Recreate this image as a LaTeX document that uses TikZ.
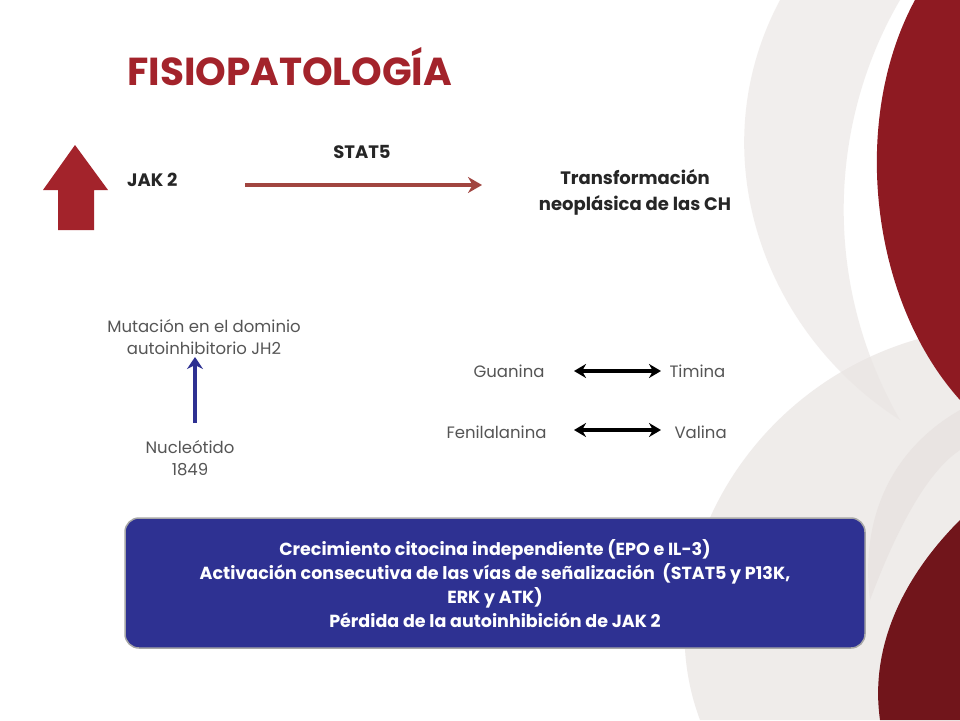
\documentclass[tikz,border=0pt]{standalone}
\usepackage{fontspec}
\setmainfont{Poppins}
\usetikzlibrary{arrows.meta}
\definecolor{dred}{HTML}{A3232B}
\definecolor{brn}{HTML}{A14540}
\definecolor{navy}{HTML}{2E3192}
\definecolor{gtxt}{HTML}{555555}
\definecolor{swr}{HTML}{8E1A22}
\definecolor{swg}{HTML}{E9E4E2}
\tikzset{lbl/.style={font=\fontsize{18}{22}\selectfont\bfseries,text=black!85},
 glbl/.style={font=\fontsize{16.5}{22}\selectfont,text=gtxt,align=center},
 dbl/.style={{Stealth[length=12pt,width=14pt]}-{Stealth[length=12pt,width=14pt]},line width=3.5pt}}
\begin{document}
\begin{tikzpicture}[x=1pt,y=-1pt]
\useasboundingbox (0,0) rectangle (960,720);
\fill[white] (0,0) rectangle (960,720);
% background swooshes
\fill[swg,opacity=0.7] (960,330) .. controls (760,360) and (640,560) .. (700,720) -- (960,720) -- cycle;
\fill[swg,opacity=0.6] (780,0) .. controls (700,150) and (760,330) .. (900,420) .. controls (820,280) and (830,120) .. (900,0) -- cycle;
\fill[swr] (960,0) -- (915,0) .. controls (850,120) and (870,300) .. (960,400) -- cycle;
\fill[swr!80!black] (960,520) .. controls (900,580) and (870,650) .. (880,720) -- (960,720) -- cycle;
\fill[swg] (960,410) .. controls (890,450) and (860,520) .. (870,600) .. controls (900,520) and (930,470) .. (960,450) -- cycle;
% title
\node[anchor=base west,text=dred,font=\fontsize{39}{44}\selectfont\bfseries,inner sep=0pt] (title) at (127,85) {FISIOPATOLOGÍA};
% red up arrow
\fill[dred] (43,190) -- (75,145) -- (108,190) -- (94,190) -- (94,230) -- (58,230) -- (58,190) -- cycle;
\node[lbl,anchor=west,inner sep=0pt] (jak) at (127,180) {JAK 2};
\node[lbl] (stat) at (362,152) {STAT5};
\node[lbl,align=center,font=\fontsize{18}{26}\selectfont\bfseries] (tr) at (635,192) {Transformación\\neoplásica de las CH};
\coordinate (a1) at (245,185); \coordinate (a2) at (482,185);
\draw[brn,line width=4pt,-{Stealth[length=14pt,width=16pt]}] (a1) -- (a2);
% left mutation
\node[glbl] (mut) at (204,337) {Mutación en el dominio\\autoinhibitorio JH2};
\node[glbl] (nuc) at (190,458) {Nucleótido\\1849};
\coordinate (b1) at (195,423); \coordinate (b2) at (195,357);
\draw[navy,line width=4pt,-{Stealth[length=12pt,width=16pt]}] (b1) -- (b2);
% pairs
\node[glbl,anchor=east] (gua) at (548,371) {Guanina};
\node[glbl,anchor=west] (tim) at (666,371) {Timina};
\node[glbl,anchor=east] (fen) at (550,432) {Fenilalanina};
\node[glbl,anchor=west] (val) at (671,432) {Valina};
\coordinate (p1) at (574,371); \coordinate (p2) at (661,371);
\coordinate (q1) at (574,430); \coordinate (q2) at (661,430);
\draw[dbl] (p1) -- (p2);
\draw[dbl] (q1) -- (q2);
% box
\draw[fill=navy,draw=gray!70,line width=1.5pt,rounded corners=14pt] (125,518) rectangle (865,648);
\node[text=white,font=\fontsize{17.5}{24}\selectfont\bfseries,align=center] (box) at (495,584)
{Crecimiento citocina independiente (EPO e IL-3)\\Activación consecutiva de las vías de señalización \ (STAT5 y P13K,\\ERK y ATK)\\Pérdida de la autoinhibición de JAK 2};
\end{tikzpicture}
\end{document}
